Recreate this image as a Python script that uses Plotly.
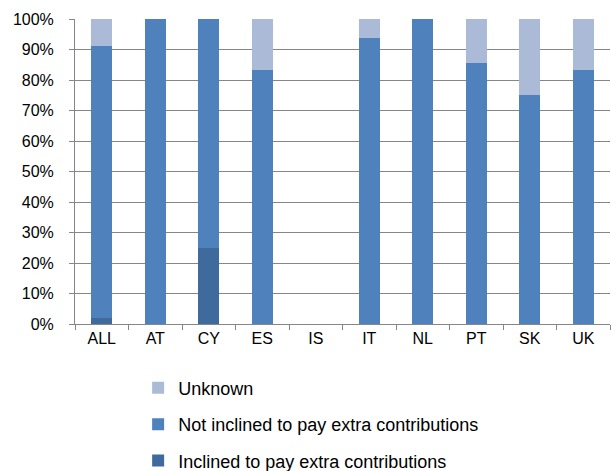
import plotly.graph_objects as go

categories = ["ALL", "AT", "CY", "ES", "IS", "IT", "NL", "PT", "SK", "UK"]
inclined = [1.9, 0, 25, 0, 0, 0, 0, 0, 0, 0]
not_inclined = [89.1, 100, 75, 83.3, 0, 93.8, 100, 85.7, 75, 83.3]
unknown = [9, 0, 0, 16.7, 0, 6.2, 0, 14.3, 25, 16.7]

series = [
    ("Inclined to pay extra contributions", inclined, "#3E6A9C", 3),
    ("Not inclined to pay extra contributions", not_inclined, "#4F81BD", 2),
    ("Unknown", unknown, "#AABAD7", 1),
]

fig = go.Figure()
for i, (name, vals, color, rank) in enumerate(series):
    fig.add_trace(go.Bar(
        x=categories, y=vals, name=name,
        marker=dict(color=color, line=dict(width=0)),
        legendgroup=f"g{i}", legendrank=rank,
    ))

font_family = "Liberation Sans, Arial, sans-serif"
fig.update_layout(
    barmode="stack",
    bargap=0.61,
    width=611, height=471,
    margin=dict(l=75, r=1, t=19, b=147, autoexpand=False),
    paper_bgcolor="white", plot_bgcolor="white",
    font=dict(family=font_family, size=16, color="#000000"),
    showlegend=True,
    legend=dict(
        orientation="v", traceorder="grouped",
        x=0.118, xanchor="left", y=-0.51, yanchor="bottom",
        tracegroupgap=10, font=dict(size=18),
        itemwidth=30,
    ),
    xaxis=dict(
        type="category", showline=True, linecolor="#868686", linewidth=1,
        ticks="outside", tickson="boundaries", ticklen=5, tickcolor="#868686",
        showgrid=False, tickfont=dict(size=16), automargin=False,
    ),
    yaxis=dict(
        range=[0, 100], tickvals=[0, 10, 20, 30, 40, 50, 60, 70, 80, 90, 100],
        ticktext=["0%", "10%", "20%", "30%", "40%", "50%", "60%", "70%", "80%", "90%", "100%"],
        showgrid=True, gridcolor="#868686", gridwidth=1,
        showline=True, linecolor="#868686", linewidth=1,
        ticks="outside", ticklen=5, tickcolor="#868686",
        tickfont=dict(size=16), zeroline=False, automargin=False,
        ticklabelstandoff=12,
    ),
)

fig.write_html(
    "out.html",
    config={"displayModeBar": False},
    post_script="document.body.style.margin='0';",
)
